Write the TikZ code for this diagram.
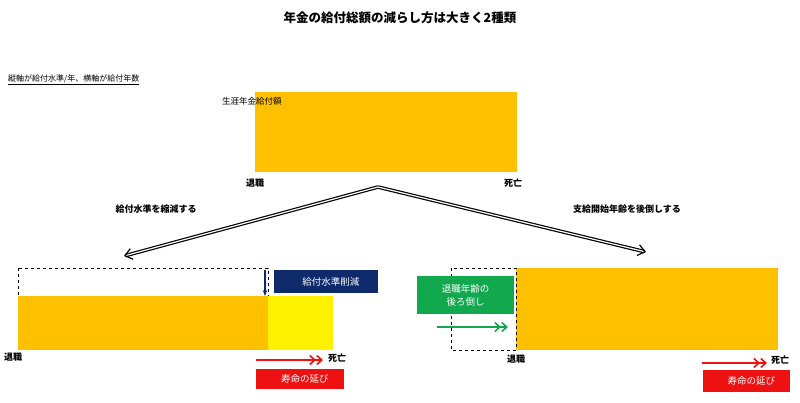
\documentclass[tikz,border=0pt]{standalone}
\usepackage{fontspec}
\setmainfont{Noto Sans CJK JP}
\usetikzlibrary{arrows.meta}
\definecolor{org}{HTML}{FFC000}
\definecolor{nav}{HTML}{0E2A6A}
\definecolor{grn}{HTML}{12A84E}
\definecolor{rd}{HTML}{EE1111}
\tikzset{
  lbl/.style={font=\bfseries\fontsize{9}{10}\selectfont, inner sep=0pt},
  tag/.style={text=white, font=\fontsize{9.5}{13}\selectfont, align=center, inner sep=0pt},
  dbl/.style={draw=black, line width=1.2pt, double=white, double distance=1.2pt, -{Straight Barb[length=7pt,width=11pt]}},
  twoarr/.style={line width=1.6pt, -{Straight Barb[length=5pt,width=9pt]Straight Barb[length=5pt,width=9pt]}},
}
\begin{document}
\begin{tikzpicture}[x=1pt,y=-1pt]
\useasboundingbox (0,0) rectangle (800,402);
\node[font=\bfseries\fontsize{12.5}{14}\selectfont] (title) at (400,18) {年金の給付総額の減らし方は大きく2種類};
\node[anchor=west, inner sep=0pt, font=\fontsize{8}{9}\selectfont] (axis) at (8,80) {\underline{縦軸が給付水準/年、横軸が給付年数}};
% top
\fill[org] (255,92) rectangle (517,172);
\node[anchor=west, inner sep=0pt, font=\fontsize{8.5}{9}\selectfont] (life) at (222,101) {生涯年金給付額};
\node[lbl] (r0) at (255,183) {退職};
\node[lbl] (d0) at (513,183) {死亡};
\coordinate (apex) at (378,187);
\coordinate (lend) at (124,256);
\coordinate (rend) at (646,252);
\draw[dbl] (apex) -- (lend);
\draw[dbl] (apex) -- (rend);
\node[lbl] (lt) at (156,209) {給付水準を縮減する};
\node[lbl] (rt) at (627,209) {支給開始年齢を後倒しする};
% left panel
\draw[dashed, thin] (18,268) rectangle (268,296);
\fill[org] (18,296) rectangle (268,350);
\fill[yellow] (268,296) rectangle (333,350);
\draw[nav, line width=1.4pt, -{Stealth[length=6pt]}] (265,270) -- (265,296);
\node[fill=nav, minimum width=104pt, minimum height=23pt, tag] (cut) at (326,281.5) {\hspace{1em}給付水準削減};
\node[lbl, anchor=west] (r1) at (4,357) {退職};
\node[lbl] (d1) at (337,358) {死亡};
\coordinate (a1s) at (256,360); \coordinate (a1e) at (323,360);
\draw[rd, twoarr] (a1s) -- (a1e);
\node[fill=rd, minimum width=88pt, minimum height=20pt, tag] (ext1) at (300,379) {\hspace{1em}寿命の延び};
% right panel
\fill[org] (516,268) rectangle (778,350);
\draw[dashed, thin] (451,268) rectangle (516,350);
\node[fill=grn, minimum width=97pt, minimum height=38pt, tag] (ret) at (465.5,295) {退職年齢の\\後ろ倒し};
\coordinate (g1) at (437,327); \coordinate (g2) at (508,327);
\draw[grn, twoarr] (g1) -- (g2);
\node[lbl] (r2) at (516,359) {退職};
\node[lbl] (d2) at (780,360) {死亡};
\coordinate (a2s) at (702,363); \coordinate (a2e) at (767,363);
\draw[rd, twoarr] (a2s) -- (a2e);
\node[fill=rd, minimum width=87pt, minimum height=22pt, tag] (ext2) at (746.5,381) {\hspace{1em}寿命の延び};
\end{tikzpicture}
\end{document}
